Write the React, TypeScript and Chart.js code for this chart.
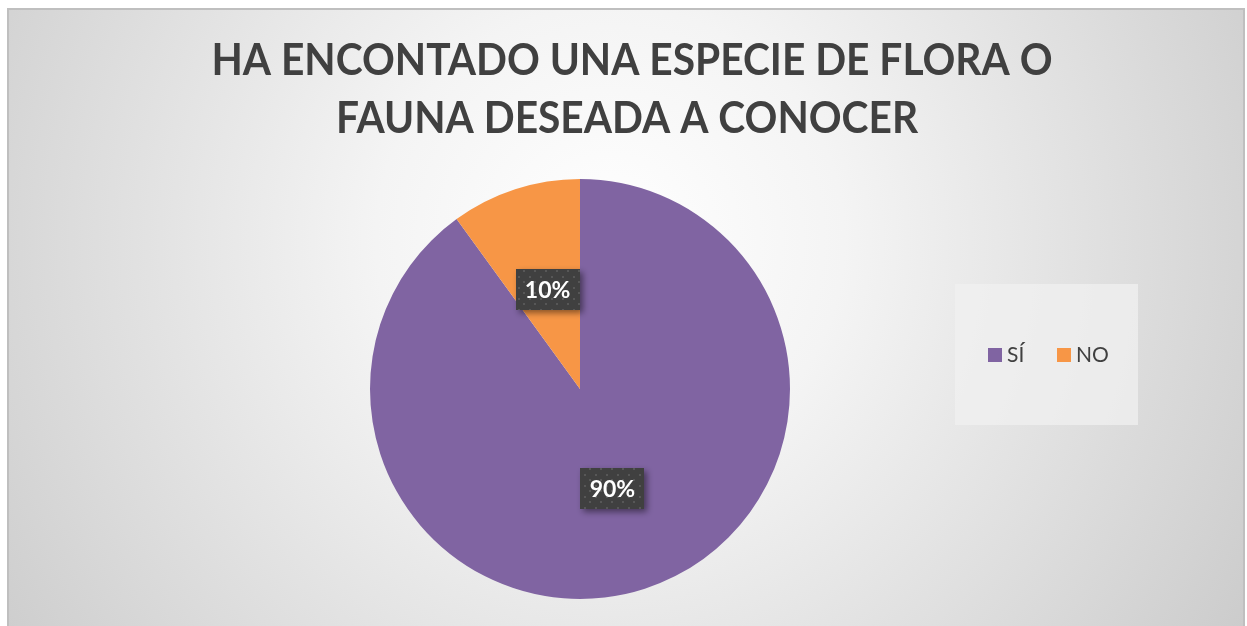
import React, { useEffect, useRef } from "react";
import { Chart, registerables } from "chart.js";

Chart.register(...registerables);

const categories: string[] = ["SÍ", "NO"];
const values: number[] = [90, 10];
const sliceColors: string[] = ["#8064A2", "#F79646"];
const titleLines: string[] = ["HA ENCONTADO UNA ESPECIE DE FLORA O", "FAUNA DESEADA A CONOCER"];

const W = 1247;
const H = 626;
const FONT = "Lato, 'Open Sans', sans-serif";

function makePattern(ctx: CanvasRenderingContext2D): CanvasPattern | string {
  const c = document.createElement("canvas");
  c.width = 11;
  c.height = 11;
  const g = c.getContext("2d");
  if (!g) return "#404040";
  g.fillStyle = "#404040";
  g.fillRect(0, 0, 11, 11);
  g.fillStyle = "#575757";
  g.fillRect(1, 1, 2, 2);
  g.fillRect(6, 6, 2, 2);
  return ctx.createPattern(c, "repeat") || "#404040";
}

const backgroundPlugin = {
  id: "bgPlugin",
  beforeDraw(chart: any) {
    const ctx: CanvasRenderingContext2D = chart.ctx;
    ctx.save();
    ctx.fillStyle = "#ffffff";
    ctx.fillRect(0, 0, W, H);
    ctx.fillStyle = "#bfbfbf";
    ctx.fillRect(7, 8, 1238, 700);
    const grad = ctx.createRadialGradient(610, 240, 0, 610, 240, 780);
    grad.addColorStop(0, "#ffffff");
    grad.addColorStop(0.3, "#f4f4f4");
    grad.addColorStop(1, "#c9c9c9");
    ctx.fillStyle = grad;
    ctx.fillRect(9, 10, 1234, 700);
    // title (slightly condensed to mimic Calibri Bold proportions)
    ctx.fillStyle = "#404040";
    ctx.font = `bold 44px ${FONT}`;
    ctx.textAlign = "center";
    ctx.textBaseline = "middle";
    const firstWidth = ctx.measureText(titleLines[0]).width;
    const sx = firstWidth > 0 ? 841 / firstWidth : 1;
    const centers = [632, 627];
    titleLines.forEach((line, i) => {
      ctx.save();
      ctx.translate(centers[i], 61 + i * 58);
      ctx.scale(sx, 1);
      ctx.fillText(line, 0, 0);
      ctx.restore();
    });
    // legend
    ctx.fillStyle = "rgba(240,240,240,0.75)";
    ctx.fillRect(955, 284, 183, 141);
    const itemX = [988, 1057];
    ctx.font = `21px ${FONT}`;
    ctx.textAlign = "left";
    categories.forEach((cat, i) => {
      ctx.fillStyle = sliceColors[i];
      ctx.fillRect(itemX[i], 348, 14, 14);
      ctx.fillStyle = "#404040";
      ctx.fillText(cat, itemX[i] + 19, 355);
    });
    ctx.restore();
  },
};

const labelPlugin = {
  id: "labelPlugin",
  afterDatasetsDraw(chart: any) {
    const ctx: CanvasRenderingContext2D = chart.ctx;
    const meta = chart.getDatasetMeta(0);
    const data: number[] = chart.data.datasets[0].data;
    const total = data.reduce((a, b) => a + b, 0);
    const pattern = makePattern(ctx);
    meta.data.forEach((arc: any, i: number) => {
      const p = arc.tooltipPosition();
      const bw = 64;
      const bh = 41;
      ctx.save();
      ctx.shadowColor = "rgba(0,0,0,0.45)";
      ctx.shadowBlur = 6;
      ctx.shadowOffsetX = 3;
      ctx.shadowOffsetY = 3;
      ctx.fillStyle = pattern;
      ctx.fillRect(Math.round(p.x - bw / 2), Math.round(p.y - bh / 2), bw, bh);
      ctx.restore();
      ctx.save();
      ctx.fillStyle = "#ffffff";
      ctx.font = `bold 23px ${FONT}`;
      ctx.textAlign = "center";
      ctx.textBaseline = "middle";
      ctx.fillText(Math.round((data[i] / total) * 100) + "%", p.x, p.y + 1);
      ctx.restore();
    });
  },
};

export default function App() {
  const ref = useRef<HTMLCanvasElement>(null);
  useEffect(() => {
    if (!ref.current) return;
    const chart = new Chart(ref.current, {
      type: "pie",
      data: {
        labels: categories,
        datasets: [
          {
            data: values,
            backgroundColor: sliceColors,
            borderWidth: 0,
          },
        ],
      },
      options: {
        responsive: false,
        animation: false,
        layout: { padding: { left: 370, right: W - 790, top: 179, bottom: H - 599 } },
        plugins: {
          legend: { display: false },
          title: { display: false },
          tooltip: { enabled: false },
        },
      },
      plugins: [backgroundPlugin, labelPlugin],
    });
    return () => chart.destroy();
  }, []);
  return (
    <div style={{ position: "absolute", left: 0, top: 0, width: W, height: H }}>
      <canvas ref={ref} width={W} height={H} style={{ display: "block" }} />
    </div>
  );
}
